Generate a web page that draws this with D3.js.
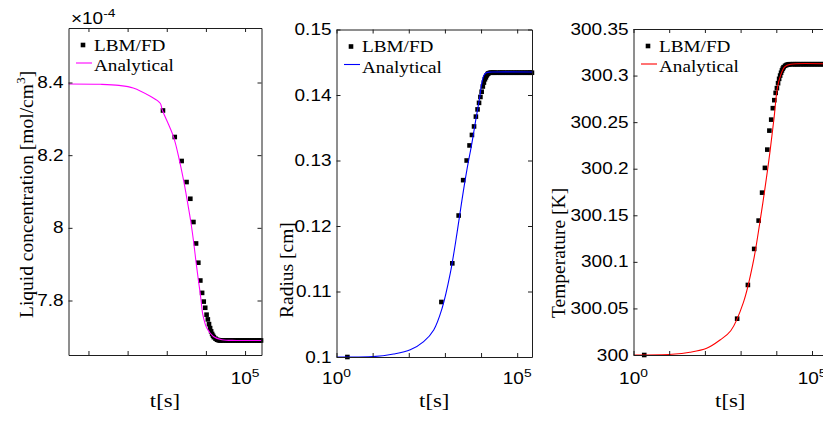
<!DOCTYPE html>
<html>
<head>
<meta charset="utf-8">
<script src="https://cdn.jsdelivr.net/npm/d3@7"></script>
<style>
  html, body { margin: 0; padding: 0; background: #fff; }
  svg { display: block; }
</style>
</head>
<body>
<svg id="fig" width="823" height="423"></svg>
<script>
// ---- LBM/FD samples (one per output time) ----
const sampleTimes = [
  2, 800, 1600, 2400, 3200, 4000, 4800, 5600, 6400, 7200,
  8000, 8800, 9600, 10400, 11200, 12000, 12800, 13600, 14400, 15200,
  16000, 17600, 19200, 20800, 22400, 24000, 27200, 30400, 33600, 36800,
  40000, 44800, 49600, 55200, 60800, 67200, 74400, 82400, 91200, 100800,
  111200, 123200, 136000, 150400, 166400, 184000, 203200, 224000, 240000, 256000
];
// liquid concentration, units of 1e-4 mol/cm^3
const concSamples = [
  8.395, 8.323, 8.250, 8.184, 8.126, 8.080, 8.016, 7.957, 7.904, 7.855,
  7.821, 7.797, 7.780, 7.761, 7.748, 7.735, 7.724, 7.715, 7.708, 7.703,
  7.699, 7.695, 7.692, 7.691, 7.690, 7.690, 7.690, 7.690, 7.690, 7.690,
  7.690, 7.690, 7.690, 7.690, 7.690, 7.690, 7.690, 7.690, 7.690, 7.690,
  7.690, 7.690, 7.690, 7.690, 7.690, 7.690, 7.690, 7.690, 7.690, 7.690
];
// bubble radius, cm
const radiusSamples = [
  0.1000, 0.1084, 0.1143, 0.1216, 0.1270, 0.1300, 0.1323, 0.1339, 0.1352, 0.1367,
  0.1378, 0.1388, 0.1397, 0.1405, 0.1413, 0.1419, 0.1424, 0.1427, 0.1430, 0.1432,
  0.1433, 0.1434, 0.1434, 0.1434, 0.1434, 0.1434, 0.1434, 0.1434, 0.1434, 0.1434,
  0.1434, 0.1434, 0.1434, 0.1434, 0.1434, 0.1434, 0.1434, 0.1434, 0.1434, 0.1434,
  0.1434, 0.1434, 0.1434, 0.1434, 0.1434, 0.1434, 0.1434, 0.1434, 0.1434, 0.1434
];
// temperature, K
const tempSamples = [
  300.0000, 300.0390, 300.0752, 300.1139, 300.1443, 300.1743, 300.2009, 300.2205, 300.2409, 300.2527,
  300.2650, 300.2736, 300.2814, 300.2865, 300.2918, 300.2965, 300.3000, 300.3030, 300.3055, 300.3075,
  300.3090, 300.3105, 300.3113, 300.3118, 300.3120, 300.3122, 300.3122, 300.3122, 300.3122, 300.3122,
  300.3122, 300.3122, 300.3122, 300.3122, 300.3122, 300.3122, 300.3122, 300.3122, 300.3122, 300.3122,
  300.3122, 300.3122, 300.3122, 300.3122, 300.3122, 300.3122, 300.3122, 300.3122, 300.3122, 300.3122
];

// ---- analytical solution ----
const concCurveTimes = [3.1, 20, 60, 139, 380, 680, 764, 1483, 2110, 2730, 3260, 4120, 4910, 5620, 6440, 7120, 7550, 8340, 10550, 15500, 25600, 60000, 263000];
const concCurve      = [8.396, 8.395, 8.392, 8.385, 8.362, 8.343, 8.325, 8.251, 8.185, 8.127, 8.081, 8.016, 7.957, 7.904, 7.855, 7.821, 7.798, 7.761, 7.724, 7.701, 7.692, 7.690, 7.690];

const radiusCurveTimes = [1, 10, 38, 110, 258, 490, 832, 1410, 2160, 2970, 4070, 5600, 7400, 9100, 10500, 12000, 14000, 20000, 263000];
const radiusCurve      = [0.1000, 0.10005, 0.10046, 0.1011, 0.10234, 0.10413, 0.1074, 0.1128, 0.1189, 0.1240, 0.1286, 0.1327, 0.1367, 0.1395, 0.1418, 0.1430, 0.1434, 0.1435, 0.1435];

const tempCurveTimes = [1, 12, 38, 112, 265, 530, 1200, 2270, 3490, 4820, 6660, 8630, 10700, 13300, 17400, 25000, 263000];
const tempCurve      = [300.0000, 300.0008, 300.0029, 300.0072, 300.0161, 300.0260, 300.0565, 300.1002, 300.1432, 300.1791, 300.2184, 300.2542, 300.2865, 300.3008, 300.3097, 300.3122, 300.3125];

// ---- axis ticks ----
const timeTicks = [1, 10, 100, 1000, 10000, 100000];
const timeLabelTicks = [1, 100000];
const timeLabelExponents = ["0", "5"];

const concTicks = [7.8, 8.0, 8.2, 8.4];
const concTickLabels = ["7.8", "8", "8.2", "8.4"];
const radiusTicks = [0.10, 0.11, 0.12, 0.13, 0.14, 0.15];
const radiusTickLabels = ["0.1", "0.11", "0.12", "0.13", "0.14", "0.15"];
const tempTicks = [300, 300.05, 300.10, 300.15, 300.20, 300.25, 300.30, 300.35];
const tempTickLabels = ["300", "300.05", "300.1", "300.15", "300.2", "300.25", "300.3", "300.35"];

// ---- appearance ----
const SANS = "'Liberation Sans', Arial, sans-serif";
const SERIF = "'Liberation Serif', 'Times New Roman', serif";
const STRETCH = 1.2;          // lettering is drawn slightly wide
const AXIS_COLOR = "#1e1e1e";
const TICK_LEN = 4;

const svg = d3.select("#fig");

const panels = [
  { id: "conc", left: 68.5, right: 261.5, top: 28, bottom: 355,
    xlim: [3.09, 263000], ylim: [7.65, 8.55],
    times: sampleTimes, values: concSamples,
    curveT: concCurveTimes, curveV: concCurve,
    ticks: concTicks, tickLabels: concTickLabels,
    color: "#ff00ff", labelX: 33, yLabel: ["Liquid concentration [mol/cm", "3", "]"], multiplier: true },
  { id: "radius", left: 336.5, right: 532, top: 29.5, bottom: 357,
    xlim: [1, 257000], ylim: [0.10, 0.15],
    times: sampleTimes, values: radiusSamples,
    curveT: radiusCurveTimes, curveV: radiusCurve,
    ticks: radiusTicks, tickLabels: radiusTickLabels,
    color: "#0000ff", labelX: 293, yLabel: ["Radius [cm]"] },
  { id: "temp", left: 633.5, right: 827, top: 29, bottom: 355,
    xlim: [1, 263000], ylim: [300, 300.35],
    times: sampleTimes, values: tempSamples,
    curveT: tempCurveTimes, curveV: tempCurve,
    ticks: tempTicks, tickLabels: tempTickLabels,
    color: "#ff0000", labelX: 565, yLabel: ["Temperature [K]"] }
];

// horizontal text with the wide lettering
function wideText(parent, x, y, anchor, family, size) {
  return parent.append("text")
    .attr("transform", `translate(${x},${y}) scale(${STRETCH},1)`)
    .attr("text-anchor", anchor)
    .attr("font-family", family)
    .attr("font-size", size)
    .attr("fill", "#000");
}

function styleAxis(sel) {
  sel.selectAll("path.domain").attr("stroke", AXIS_COLOR).attr("stroke-width", 1);
  sel.selectAll(".tick line").attr("stroke", AXIS_COLOR).attr("stroke-width", 1);
  sel.attr("font-family", SANS).attr("font-size", 15.8);
  sel.selectAll(".tick text").attr("fill", "#000").attr("transform", `scale(${STRETCH},1)`);
}

panels.forEach(p => {
  const g = svg.append("g").attr("class", "panel-" + p.id);
  const x = d3.scaleLog().domain(p.xlim).range([p.left, p.right]);
  const y = d3.scaleLinear().domain(p.ylim).range([p.bottom, p.top]);

  const clipId = "clip-" + p.id;
  svg.append("clipPath").attr("id", clipId)
    .append("rect")
    .attr("x", p.left).attr("y", p.top)
    .attr("width", p.right - p.left).attr("height", p.bottom - p.top);

  // LBM/FD markers (kept when the sample lies inside the axes limits)
  const pts = p.times.map((t, i) => [t, p.values[i]])
    .filter(d => d[0] >= p.xlim[0] && d[0] <= p.xlim[1]);
  const MS = 4.6;
  g.append("g").selectAll("rect").data(pts).join("rect")
    .attr("x", d => x(d[0]) - MS / 2)
    .attr("y", d => y(d[1]) - MS / 2)
    .attr("width", MS).attr("height", MS)
    .attr("fill", "#000");

  // analytical curve, drawn over the markers
  const curvePts = p.curveT.map((t, i) => [t, p.curveV[i]]);
  const line = d3.line().x(d => x(d[0])).y(d => y(d[1])).curve(d3.curveCatmullRom.alpha(0.5));
  g.append("path")
    .datum(curvePts)
    .attr("clip-path", `url(#${clipId})`)
    .attr("fill", "none")
    .attr("stroke", p.color)
    .attr("stroke-width", 1.1)
    .attr("d", line);

  // axes with inward ticks on all four sides
  const inDomain = v => v >= p.xlim[0] && v <= p.xlim[1];
  const xt = timeTicks.filter(inDomain);
  g.append("g").attr("transform", `translate(0,${p.bottom})`)
    .call(d3.axisBottom(x).tickValues(xt).tickSize(-TICK_LEN).tickSizeOuter(0).tickFormat(() => ""))
    .call(styleAxis);
  g.append("g").attr("transform", `translate(0,${p.top})`)
    .call(d3.axisTop(x).tickValues(xt).tickSize(-TICK_LEN).tickSizeOuter(0).tickFormat(() => ""))
    .call(styleAxis);
  g.append("g").attr("transform", `translate(${p.left},0)`)
    .call(d3.axisLeft(y).tickValues(p.ticks).tickSize(-TICK_LEN).tickSizeOuter(0).tickPadding(4.2)
      .tickFormat((d, i) => p.tickLabels[i]))
    .call(styleAxis);
  g.append("g").attr("transform", `translate(${p.right},0)`)
    .call(d3.axisRight(y).tickValues(p.ticks).tickSize(-TICK_LEN).tickSizeOuter(0).tickFormat(() => ""))
    .call(styleAxis);

  // decade labels 10^n
  timeLabelTicks.forEach((t, i) => {
    if (!inDomain(t)) return;
    const tx = wideText(g, x(t), 383.5, "middle", SANS, 15.8);
    tx.append("tspan").text("10");
    tx.append("tspan").attr("font-size", 11.5).attr("dy", -7).text(timeLabelExponents[i]);
  });

  // x-axis title
  wideText(g, (p.left + p.right) / 2, 406.5, "middle", SERIF, 19).text("t[s]");

  // y-axis title (rotated, starting from the lower part of the axes)
  const yl = g.append("text")
    .attr("transform", `translate(${p.labelX},318) rotate(-90)`)
    .attr("text-anchor", "start")
    .attr("font-family", SERIF)
    .attr("font-size", 19.5)
    .attr("fill", "#000");
  yl.append("tspan").text(p.yLabel[0]);
  if (p.yLabel.length > 1) {
    yl.append("tspan").attr("font-size", 13.5).attr("dy", -8).text(p.yLabel[1]);
    yl.append("tspan").attr("dy", 8).text(p.yLabel[2]);
  }

  // exponent multiplier above the concentration axis
  if (p.multiplier) {
    const m = wideText(g, p.left + 2.5, 24, "start", SANS, 15.8);
    m.append("tspan").text("\u00d710");
    m.append("tspan").attr("font-size", 11.5).attr("dy", -7).text("-4");
  }

  // legend
  const lg = g.append("g");
  lg.append("rect")
    .attr("x", p.left + 14.5 - MS / 2).attr("y", p.top + 17 - MS / 2)
    .attr("width", MS).attr("height", MS).attr("fill", "#000");
  wideText(lg, p.left + 25.5, p.top + 22.5, "start", SERIF, 16).text("LBM/FD");
  lg.append("line")
    .attr("x1", p.left + 7.5).attr("x2", p.left + 23.5)
    .attr("y1", p.top + 35).attr("y2", p.top + 35)
    .attr("stroke", p.color).attr("stroke-width", 1.1);
  wideText(lg, p.left + 25.5, p.top + 43, "start", SERIF, 16).text("Analytical");
});
</script>
</body>
</html>
